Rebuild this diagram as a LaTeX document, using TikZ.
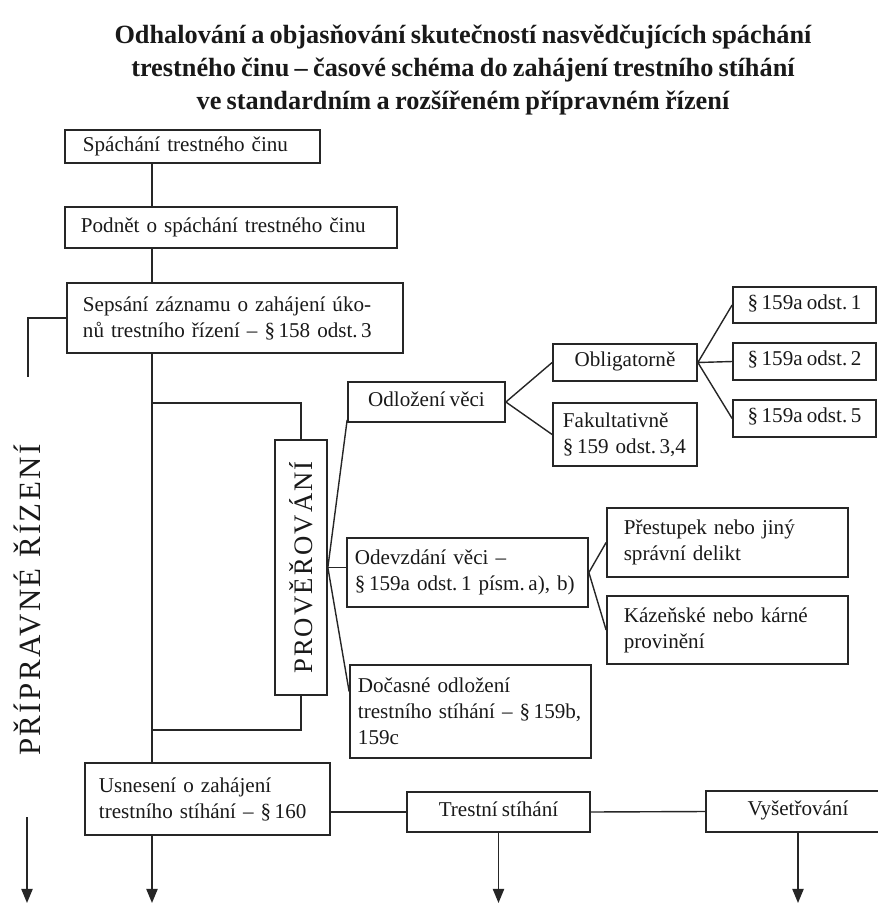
\documentclass[tikz,border=0pt]{standalone}
\usepackage{fontspec}
\setmainfont{Liberation Serif}[WordSpace=0.8]
\newfontfamily\spacedfont[LetterSpace=8]{Liberation Serif}
\usepackage{graphicx}
\usepackage{tikz}
\usetikzlibrary{arrows.meta}
\colorlet{lineColor}{black!85}
\colorlet{textColor}{black!90}

\begin{document}
\begin{tikzpicture}[x=0.025cm,y=-0.025cm,
box/.style={shape=rectangle,draw=lineColor,line width=1.2pt,text=textColor,inner sep=0pt,
    font=\fontsize{15}{18.5}\selectfont},
oneBox/.style={box,text height=0.8em,text depth=0.22em},
leftBox/.style={box,align=left,inner xsep=0.4cm},
myedge/.style={draw=lineColor,line width=1pt},
myarrow/.style={myedge,-{Triangle[length=10pt,width=8pt]}}
]
\useasboundingbox (0,0) rectangle (878,904);
\node[text=textColor,align=center,font=\bfseries\fontsize{18.7}{23.5}\selectfont] (title) at (463,70)
  {Odhalování a objasňování skutečností nasvědčujících spáchání\\
   trestného činu – časové schéma do zahájení trestního stíhání\\
   ve standardním a rozšířeném přípravném řízení};
\node[leftBox,inner xsep=0.45cm,text width=5.475cm,minimum height=0.825cm] (spach) at (192.5,146.5) {Spáchání trestného činu};
\node[leftBox,text width=7.5cm,minimum height=1.025cm] (podnet) at (231,227.5) {Podnět o spáchání trestného činu};
\node[leftBox,text width=7.6cm,minimum height=1.75cm] (seps) at (235,318) {Sepsání záznamu o zahájení úko-\\nů trestního řízení – §\,158 odst.\,3};
\node[oneBox,minimum width=3.925cm,minimum height=1cm] (odl) at (426.5,402) {Odložení věci};
\node[oneBox,minimum width=3.6cm,minimum height=0.925cm] (oblig) at (625,362.5) {Obligatorně};
\node[leftBox,inner xsep=0.25cm,text width=3.1cm,minimum height=1.575cm] (fakult) at (625,434.5) {Fakultativně\\§\,159 odst.\,3,4};
\node[oneBox,minimum width=3.575cm,minimum height=0.9cm] (pa1) at (804.5,305) {§\,159a odst.\,1};
\node[oneBox,minimum width=3.575cm,minimum height=0.925cm] (pa2) at (804.5,361.5) {§\,159a odst.\,2};
\node[oneBox,minimum width=3.575cm,minimum height=0.925cm] (pa5) at (804.5,418.5) {§\,159a odst.\,5};
\node[box,minimum width=1.3cm,minimum height=6.375cm] (prov) at (301,567.5)
  {\rotatebox{90}{\spacedfont\fontsize{19}{19}\selectfont PROVĚŘOVÁNÍ}};
\node[leftBox,inner xsep=0.2cm,text width=5.625cm,minimum height=1.725cm] (odevz) at (467.5,572.5) {Odevzdání věci –\\§\,159a odst.\,1 písm.\,a), b)};
\node[leftBox,inner xsep=0.42cm,text width=5.185cm,minimum height=1.725cm] (prest) at (727.5,542.5) {Přestupek nebo jiný\\správní delikt};
\node[leftBox,inner xsep=0.42cm,text width=5.185cm,minimum height=1.7cm] (kazen) at (727.5,630) {Kázeňské nebo kárné\\provinění};
\node[leftBox,inner xsep=0.2cm,text width=5.625cm,minimum height=2.325cm] (docas) at (470.5,711.5) {Dočasné odložení\\trestního stíhání – §\,159b,\\159c};
\node[leftBox,inner xsep=0.35cm,text width=5.425cm,minimum height=1.8cm] (usnes) at (207.5,799) {Usnesení o zahájení\\trestního stíhání – §\,160};
\node[oneBox,minimum width=4.575cm,minimum height=1cm] (trest) at (498.5,812) {Trestní stíhání};
\node[oneBox,minimum width=4.6cm,minimum height=1.025cm] (vysetr) at (798,811.5) {Vyšetřování};
\node[text=textColor,inner sep=0pt] (label) at (27,600)
  {\rotatebox{90}{\spacedfont\fontsize{22}{22}\selectfont PŘÍPRAVNÉ ŘÍZENÍ}};
% helper points
\coordinate (trunk) at (152,0);
\coordinate (lbrEnd) at (28,377);
\coordinate (brTop) at (152,403);
\coordinate (brBot) at (152,730);
\coordinate (startL) at (27,817);
\coordinate (endL) at (27,903);
\coordinate (endU) at (152,903);
\coordinate (endT) at (498.5,903);
\coordinate (endV) at (798,903);
% main line
\draw[myedge] (spach.south -| trunk) -- (podnet.north -| trunk);
\draw[myedge] (podnet.south -| trunk) -- (seps.north -| trunk);
\draw[myedge] (seps.south -| trunk) -- (usnes.north -| trunk);
\draw[myedge] (seps.west) -| (lbrEnd);
\draw[myedge] (brTop) -| (prov.north);
\draw[myedge] (brBot) -| (prov.south);
% branches
\draw[myedge] (prov.east) -- ([yshift=2pt]odl.south west);
\draw[myedge] (prov.east) -- (prov.east -| odevz.west);
\draw[myedge] (prov.east) -- ([yshift=0.5cm]docas.west);
\draw[myedge] (odl.east) -- (oblig.west) (odl.east) -- (fakult.west);
\draw[myedge] (oblig.east) -- (pa1.west) (oblig.east) -- (pa2.west) (oblig.east) -- (pa5.west);
\draw[myedge] (odevz.east) -- (prest.west) (odevz.east) -- (kazen.west);
\draw[myedge] (trest.west -| usnes.east) -- (trest.west);
\draw[myedge] (trest.east) -- (vysetr.west);
% arrows
\draw[myarrow] (startL) -- (endL);
\draw[myarrow] (usnes.south -| trunk) -- (endU);
\draw[myarrow] (trest.south) -- (endT);
\draw[myarrow] (vysetr.south) -- (endV);
\end{tikzpicture}
\end{document}
